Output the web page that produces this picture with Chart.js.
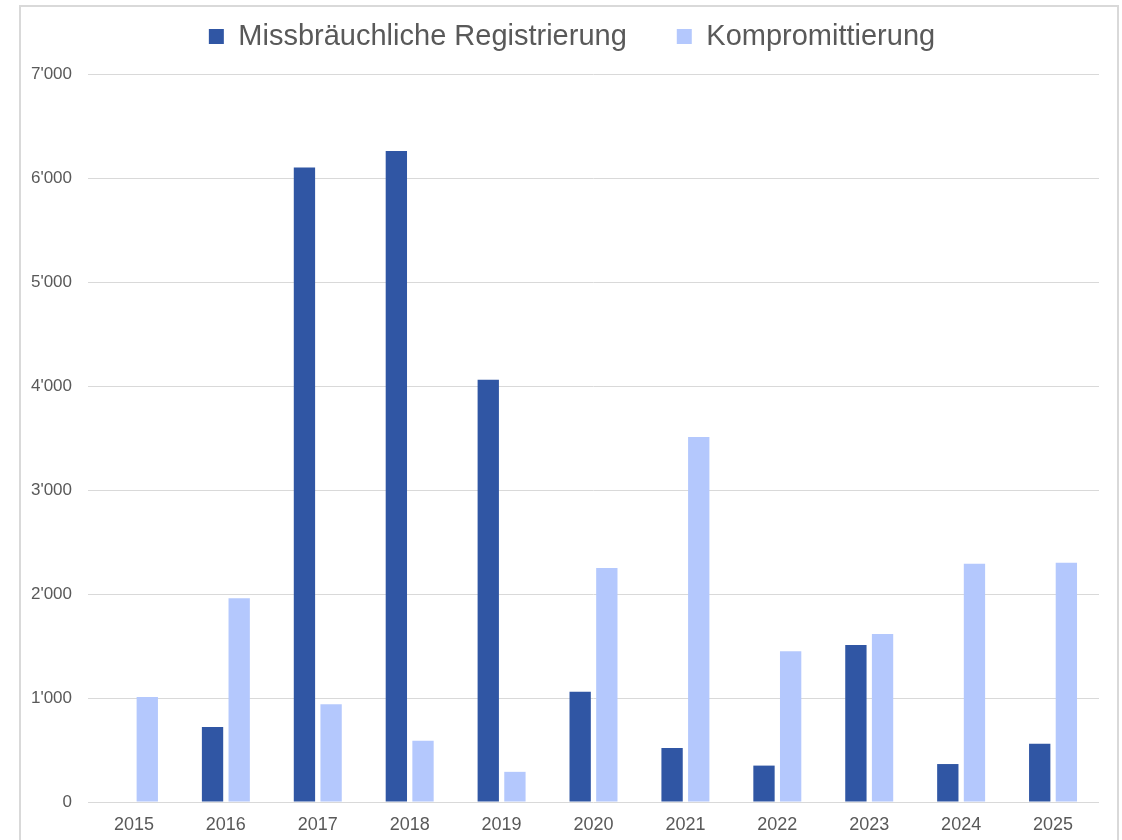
<!DOCTYPE html>
<html>
<head>
<meta charset="utf-8">
<script src="https://cdn.jsdelivr.net/npm/chart.js@4/dist/chart.umd.min.js"></script>
<style>
  html, body { margin: 0; padding: 0; background: #fff; overflow: hidden; }
  #frame {
    position: absolute; left: 19px; top: 5px; width: 1096px; height: 860px;
    border: 2px solid #d9d9d9; background: #fff;
  }
  #wrap { position: absolute; left: 0; top: 0; width: 1096px; height: 833px; }
</style>
</head>
<body>
<div id="frame"><div id="wrap"><canvas id="c"></canvas></div></div>
<script>
const years = ['2015', '2016', '2017', '2018', '2019', '2020', '2021', '2022', '2023', '2024', '2025'];
const missbraeuchlich = [0, 720, 6100, 6260, 4060, 1060, 520, 350, 1510, 365, 560];
const kompromittierung = [1010, 1960, 940, 590, 290, 2250, 3510, 1450, 1615, 2290, 2300];
const yTicks = [0, 1000, 2000, 3000, 4000, 5000, 6000, 7000];

const fmt = v => String(v).replace(/\B(?=(\d{3})+(?!\d))/g, "'");
const FONT = 'Liberation Sans, Arial, sans-serif';

// fixed legend height so the plot starts where the original does,
// and nudge the legend a bit to the right like in the original
const legendTweak = {
    id: 'legendTweak',
    beforeInit(chart) {
        const fit = chart.legend.fit;
        chart.legend.fit = function () {
            fit.bind(chart.legend)();
            this.height = 102;
        };
    },
    afterLayout(chart) {
        chart.legend.left += 12;
        chart.legend.right += 12;
    }
};

document.addEventListener('DOMContentLoaded', () => {
    const ctx = document.getElementById('c').getContext('2d');
    new Chart(ctx, {
        type: 'bar',
        data: {
            labels: years,
            datasets: [{
                label: 'Missbräuchliche Registrierung',
                data: missbraeuchlich,
                backgroundColor: '#3056a4',
                categoryPercentage: 0.58,
                barPercentage: 0.8
            }, {
                label: 'Kompromittierung',
                data: kompromittierung,
                backgroundColor: '#b4c8fd',
                categoryPercentage: 0.58,
                barPercentage: 0.8
            }]
        },
        options: {
            responsive: true,
            maintainAspectRatio: false,
            animation: false,
            layout: { padding: { left: 0, right: 18, top: -35, bottom: 0 } },
            plugins: {
                legend: {
                    position: 'top',
                    labels: {
                        font: { family: FONT, size: 29 },
                        color: '#595959',
                        boxWidth: 15,
                        boxHeight: 15,
                        padding: 50
                    }
                },
                tooltip: { enabled: false }
            },
            scales: {
                x: {
                    grid: { display: false },
                    border: { display: false },
                    ticks: {
                        font: { family: FONT, size: 18 },
                        color: '#595959',
                        padding: 4
                    },
                    afterFit: scale => { scale.height = 38; }
                },
                y: {
                    min: 0,
                    max: 7000,
                    afterBuildTicks: scale => { scale.ticks = yTicks.map(v => ({ value: v })); },
                    grid: { color: '#d9d9d9', drawTicks: false },
                    border: { display: false },
                    ticks: {
                        font: { family: FONT, size: 17 },
                        color: '#595959',
                        padding: 16,
                        callback: v => fmt(v)
                    },
                    afterFit: scale => { scale.width = 67; }
                }
            }
        },
        plugins: [legendTweak]
    });
});
</script>
</body>
</html>
